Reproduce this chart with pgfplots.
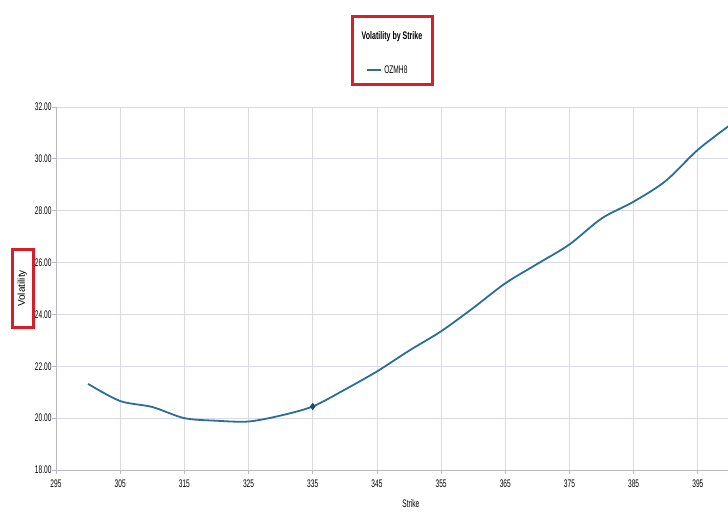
\documentclass[border=0pt]{standalone}
\usepackage{fontspec}
\setmainfont{Liberation Sans}
\newfontfamily\narrow{Liberation Sans}[FakeStretch=0.6]
\newfontfamily\narrowb{Liberation Sans}[FakeStretch=0.64]
\usepackage{pgfplots}
\pgfplotsset{compat=1.18}
\definecolor{vline}{RGB}{42,110,152}
\definecolor{gridc}{RGB}{218,218,226}
\definecolor{axc}{RGB}{185,185,195}
\definecolor{boxred}{RGB}{212,32,42}
\begin{document}
\begin{tikzpicture}[x=1pt,y=1pt]
\path[use as bounding box] (0,0) rectangle (728,527);
\begin{axis}[
  at={(56pt,57pt)}, anchor=south west,
  scale only axis, width=672pt, height=363pt,
  xmin=295, xmax=399.7, ymin=18, ymax=32,
  xtick={295,305,...,395}, ytick={18,20,...,32},
  axis x line*=bottom, axis y line*=left,
  axis line style={axc, line width=0.8pt, -},
  grid=major, major grid style={gridc, line width=0.8pt},
  tick style={axc, line width=0.8pt}, tick align=outside, major tick length=4pt,
  /pgf/number format/assume math mode=true,
  yticklabel style={font=\narrow\fontsize{11}{13}\selectfont, xshift=3pt, /pgf/number format/.cd, fixed, fixed zerofill, precision=2},
  xticklabel style={font=\narrow\fontsize{11}{13}\selectfont, yshift=-2pt},
  xlabel={Strike}, xlabel style={font=\narrow\fontsize{11}{13}\selectfont, at={(axis description cs:0.528,-0.093)}, anchor=center},
  ylabel={Volatility}, ylabel style={font=\fontsize{10}{12}\selectfont, at={(axis description cs:-0.05,0.5)}, anchor=center},
  legend style={at={(axis description cs:0.494,1.102)}, anchor=center, draw=none, fill=none, font=\narrow\fontsize{11}{13}\selectfont},
  legend image code/.code={\draw[#1, mark=none] (0pt,0pt) -- (14pt,0pt);},
]
\addplot[vline, line width=1.8pt, smooth, tension=0.5, mark=diamond*, mark size=3.2pt, mark options={fill=vline!70!black, draw=vline!70!black, line width=0.6pt}, mark indices={8}]
coordinates {
(300,21.32) (305,20.66) (310,20.43) (315,20.00) (320,19.90) (325,19.87)
(330,20.10) (335,20.45) (340,21.10) (345,21.80) (350,22.60) (355,23.35)
(360,24.25) (365,25.20) (370,25.95) (375,26.70) (380,27.70) (385,28.35)
(390,29.15) (395,30.35) (400,31.30)
};
\addlegendentry{OZMH8}
\end{axis}
\node[font=\narrowb\bfseries\fontsize{11}{13}\selectfont] at (392,490) {Volatility by Strike};
\draw[boxred, line width=3pt] (352,442) rectangle (432,510);
\draw[boxred, line width=3pt] (12,199) rectangle (33,277);
\end{tikzpicture}
\end{document}
